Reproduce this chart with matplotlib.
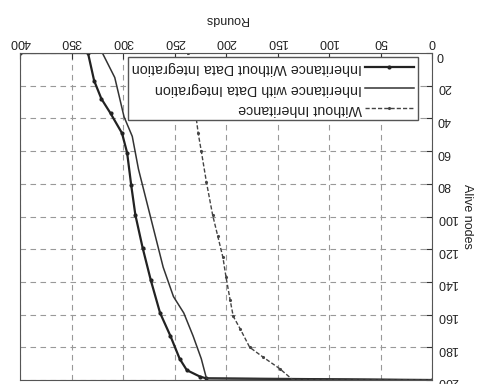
import matplotlib.pyplot as plt

plt.rcParams['font.family'] = ['Liberation Sans', 'DejaVu Sans']
plt.rcParams['font.size'] = 9

rounds_no_inh = [0, 135, 148, 164, 177, 186, 193, 196, 200, 203, 208, 213, 219, 224, 227, 232, 237, 400]
alive_no_inh = [200, 200, 193, 186, 180, 169, 161, 151, 137, 125, 112, 99, 79, 60, 49, 25, 0, 0]

rounds_with_di = [0, 219, 224, 232, 241, 251, 261, 269, 277, 285, 291, 299, 308, 320, 400]
alive_with_di = [200, 199, 187, 173, 159, 149, 131, 111, 91, 71, 51, 39, 15, 0, 0]

rounds_without_di = [0, 219, 225, 238, 245, 254, 264, 273, 281, 288, 292, 296, 301, 312, 321, 328, 334, 400]
alive_without_di = [200, 199, 198, 194, 187, 173, 159, 139, 119, 99, 81, 61, 49, 37, 28, 17, 0, 0]

x_ticks = list(range(0, 401, 50))
y_ticks = list(range(0, 201, 20))

fig = plt.figure(figsize=(4.79, 3.84), dpi=100)
ax = fig.add_axes([20 / 479, 4 / 384, 412 / 479, 327 / 384])

l3, = ax.plot(rounds_without_di, alive_without_di, color='#222222', lw=1.6,
              marker='o', ms=2, label='Inheritance Without Data Integration')
l2, = ax.plot(rounds_with_di, alive_with_di, color='#333333', lw=1.1,
              label='Inheritance with Data Integration')
l1, = ax.plot(rounds_no_inh, alive_no_inh, color='#444444', lw=1.0,
              linestyle=(0, (3, 1.5)), marker='.', ms=2.5, label='Without Inheritance')

# the scan is rotated by 180 degrees
ax.set_xlim(400, 0)
ax.set_ylim(200, 0)
ax.set_xticks(x_ticks)
ax.set_yticks(y_ticks)
ax.xaxis.tick_top()
ax.yaxis.tick_right()
ax.xaxis.set_label_position('top')
ax.yaxis.set_label_position('right')
ax.tick_params(direction='in', length=4, labelrotation=180, colors='#333333', labelcolor='#222222')
ax.set_xlabel('Rounds', rotation=180, color='#222222', labelpad=10)
ax.set_ylabel('Alive nodes', rotation=270, color='#222222', labelpad=11)

ax.grid(True, linestyle=(0, (5, 4)), color='#999999', lw=0.8)
for s in ax.spines.values():
    s.set_color('#555555')

leg = ax.legend(handles=[l3, l2, l1], loc='upper right', bbox_to_anchor=(0.966, 0.988),
                borderaxespad=0, markerfirst=False, handlelength=3.4, handletextpad=0.2,
                borderpad=0.3, labelspacing=0.45, fancybox=False, framealpha=1,
                edgecolor='#555555', fontsize=10.3)
for t in leg.get_texts():
    t.set_rotation(180)
    t.set_color('#222222')

plt.savefig('out.png', dpi=100)
